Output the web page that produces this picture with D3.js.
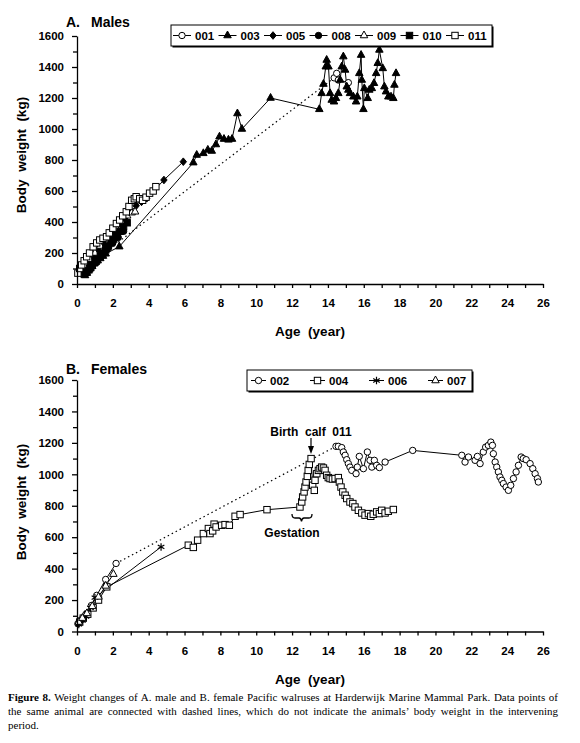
<!DOCTYPE html>
<html>
<head>
<meta charset="utf-8">
<title>Walrus body weight</title>
<script src="https://d3js.org/d3.v7.min.js"></script>
<style>
  body { margin: 0; background: #fff; }
  .axis text { font-family: "Liberation Sans", Arial, sans-serif; font-weight: bold; font-size: 11.5px; fill: #000; }
  .axis path, .axis line { stroke: #000; stroke-width: 1.3px; }
  .lbl { font-family: "Liberation Sans", Arial, sans-serif; font-weight: bold; fill: #000; }
  .cap { font-family: "Liberation Serif", "Times New Roman", serif; font-size: 11px; fill: #000; }
</style>
</head>
<body>
<svg id="fig" width="580" height="743"></svg>
<script>
// age (year), body weight (kg). a null means a gap -> bridged with a dotted line

// ---- A. males ----
var maleIds = ["001", "003", "005", "008", "009", "010", "011"];
var maleMarks = ["circleOpen", "triFilled", "diamond", "circleFilled", "triOpen", "squareFilled", "squareOpen"];

var m001 = [[0.3,80],[0.7,120],[1.1,160],[1.5,200], null,
  [14.35,1330],[14.49,1359],[14.58,1316],[15.14,1299]];
var m003 = [[0.45,55],[0.55,70],[0.65,85],[0.75,100],[0.85,115],[0.95,130],[1.05,140],[1.15,150],[1.3,165],[1.45,180],[1.6,195],
  [2.36,241],[6.49,783],[6.68,832],[7.05,843],[7.3,865],[7.52,858],[7.75,900],[7.95,950],[8.2,935],[8.45,930],[8.65,935],
  [8.95,1100],[9.2,1000],[10.8,1200],[13.52,1127],[13.65,1230],[13.75,1290],[13.88,1402],[13.93,1445],[14.03,1402],
  [14.12,1230],[14.21,1187],[14.34,1176],[14.45,1198],[14.58,1230],[14.68,1316],[14.77,1402],[14.86,1467],[14.96,1381],
  [15.05,1273],[15.14,1252],[15.23,1230],[15.42,1208],[15.57,1176],[15.64,1208],[15.75,1359],[15.85,1477],[15.89,1316],
  [15.98,1127],[16.03,1262],[16.22,1198],[16.31,1252],[16.45,1262],[16.57,1295],[16.69,1359],[16.78,1424],[16.87,1510],
  [17.06,1391],[17.15,1273],[17.24,1241],[17.37,1208],[17.52,1208],[17.65,1198],[17.71,1284],[17.8,1359]];
var m005 = [[0.35,95],[0.6,130],[0.9,175],[1.2,215],[1.5,255],[1.8,300],[2.1,345],[2.4,390],[2.7,430],[3.0,470],
  [3.3,505],[3.6,530],[3.89,553],[4.85,671],[5.93,789]];
var m008 = [[0.5,70],[0.8,105],[1.1,145],[1.4,185],[1.7,225],[2.0,265],[2.3,300],[2.6,340]];
var m009 = [[0.2,85],[0.45,120],[0.7,160],[1.0,200],[1.3,245],[1.6,285],[1.9,320],[2.2,360],[2.5,400],[2.8,440],[3.05,460],[3.24,466]];
var m010 = [[0.4,65],[0.55,80],[0.7,100],[0.85,120],[1.0,140],[1.15,160],[1.3,180],[1.45,200],[1.6,220],[1.75,245],
  [1.9,265],[2.05,290],[2.2,315],[2.4,340],[2.6,370],[2.8,395]];
var m011 = [[0.05,70],[0.15,100],[0.26,123],[0.4,150],[0.54,176],[0.7,200],[0.9,240],[1.1,265],[1.27,284],[1.45,295],
  [1.65,305],[1.8,330],[2.0,360],[2.2,390],[2.38,413],[2.55,440],[2.75,466],[2.9,500],[3.05,540],[3.2,550],[3.3,563],
  [3.5,550],[3.66,540],[3.85,560],[4.05,586],[4.25,600],[4.4,628]];
var maleData = [m001, m003, m005, m008, m009, m010, m011];

// ---- B. females ----
var femaleIds = ["002", "004", "006", "007"];
var femaleMarks = ["circleOpen", "squareOpen", "asterisk", "triOpen"];

var f002 = [[0.05,50],[0.25,75],[0.5,110],[0.8,165],[1.1,230],[1.6,331],[2.18,433], null,
  [14.45,1178],[14.58,1178],[14.77,1170],[14.86,1142],[14.96,1121],[15.05,1093],[15.14,1068],[15.23,1046],[15.33,1025],
  [15.57,1004],[15.64,1046],[15.75,1114],[15.98,1036],[16.2,1142],[16.35,1089],[16.45,1046],[16.59,1089],[16.72,1057],
  [16.87,1043],[17.19,1078],[18.73,1152],[21.47,1121],[21.65,1078],[21.84,1110],[22.21,1089],[22.34,1114],[22.49,1068],
  [22.67,1142],[22.8,1173],[22.95,1184],[23.09,1205],[23.18,1184],[23.23,1131],[23.33,1078],[23.42,1046],[23.51,1015],
  [23.6,983],[23.7,962],[23.79,941],[23.94,919],[24.07,898],[24.2,930],[24.35,973],[24.5,1015],[24.63,1057],[24.78,1110],
  [24.9,1100],[25.06,1093],[25.28,1068],[25.43,1036],[25.56,1004],[25.69,973],[25.74,951]];
var f004 = [[0.15,60],[0.35,85],[0.6,110],[0.9,150],[1.2,200],[1.66,284],[6.21,549],[6.49,535],[6.73,581],[7.05,623],
  [7.33,655],[7.42,623],[7.57,640],[7.65,683],[7.76,665],[8.07,676],[8.26,680],[8.5,676],[8.82,733],[9.1,744],[10.6,775],
  [12.44,792],[12.54,824],[12.59,856],[12.67,888],[12.72,919],[12.78,951],[12.85,987],[12.9,1025],[12.96,1063],[13.06,1100],
  [13.15,930],[13.24,898],[13.28,962],[13.38,1004],[13.47,1025],[13.56,1036],[13.65,1046],[13.75,1040],[13.84,1025],
  [13.93,994],[14.02,979],[14.12,973],[14.25,970],[14.4,973],[14.58,979],[14.64,951],[14.73,919],[14.83,888],[14.96,867],
  [15.05,846],[15.23,824],[15.39,814],[15.51,792],[15.7,771],[15.89,754],[16.07,740],[16.26,750],[16.39,733],[16.53,746],
  [16.72,761],[16.87,750],[17.0,771],[17.19,754],[17.37,765],[17.65,776]];
var f006 = [[0.1,45],[0.3,70],[0.5,95],[0.75,150],[1.0,215],[4.69,538]];
var f007 = [[0.1,60],[0.3,85],[0.55,115],[0.85,160],[1.2,220],[1.6,290],[2.03,365]];
var femaleData = [f002, f004, f006, f007];

// axis ticks
var xTicks = [0,1,2,3,4,5,6,7,8,9,10,11,12,13,14,15,16,17,18,19,20,21,22,23,24,25,26];
var yTicks = [0,200,400,600,800,1000,1200,1400,1600];
var yMinor = [100,300,500,700,900,1100,1300,1500];

var svg = d3.select("#fig");

var x = d3.scaleLinear().domain([0, 26]).range([77, 543]);
var yA = d3.scaleLinear().domain([0, 1600]).range([284, 36]);
var yB = d3.scaleLinear().domain([0, 1600]).range([631.5, 380]);

// draw one marker shape at px,py
function marker(g, type, px, py) {
  if (type == "circleOpen" || type == "circleFilled") {
    g.append("circle").attr("cx", px).attr("cy", py).attr("r", 3.2)
      .attr("fill", type == "circleOpen" ? "#fff" : "#000").attr("stroke", "#000").attr("stroke-width", 1);
  } else if (type == "triFilled" || type == "triOpen") {
    var s = 7.5;
    g.append("path")
      .attr("d", "M" + px + "," + (py - s * 0.6) + "L" + (px + s / 2) + "," + (py + s * 0.3) + "L" + (px - s / 2) + "," + (py + s * 0.3) + "Z")
      .attr("fill", type == "triOpen" ? "#fff" : "#000").attr("stroke", "#000").attr("stroke-width", 1);
  } else if (type == "squareFilled" || type == "squareOpen") {
    g.append("rect").attr("x", px - 3.2).attr("y", py - 3.2).attr("width", 6.4).attr("height", 6.4)
      .attr("fill", type == "squareOpen" ? "#fff" : "#000").attr("stroke", "#000").attr("stroke-width", 1);
  } else if (type == "diamond") {
    g.append("path")
      .attr("d", "M" + px + "," + (py - 3.8) + "L" + (px + 3.2) + "," + py + "L" + px + "," + (py + 3.8) + "L" + (px - 3.2) + "," + py + "Z")
      .attr("fill", "#000").attr("stroke", "#000");
  } else if (type == "asterisk") {
    var r = 3.8, d = "";
    [90, 30, 150].forEach(function(a) {
      var dx = r * Math.cos(a * Math.PI / 180), dy = r * Math.sin(a * Math.PI / 180);
      d += "M" + (px - dx) + "," + (py - dy) + "L" + (px + dx) + "," + (py + dy);
    });
    g.append("path").attr("d", d).attr("stroke", "#000").attr("stroke-width", 1.2).attr("fill", "none");
  }
}

function drawPanel(y, data, marks) {
  var g = svg.append("g");
  var line = d3.line()
    .defined(function(d) { return d !== null; })
    .x(function(d) { return x(d[0]); })
    .y(function(d) { return y(d[1]); });

  // solid connections + dotted bridges over gaps
  data.forEach(function(s) {
    g.append("path").attr("d", line(s)).attr("fill", "none").attr("stroke", "#000").attr("stroke-width", 1);
    s.forEach(function(d, i) {
      if (d === null) {
        var a = s[i - 1], b = s[i + 1];
        g.append("line")
          .attr("x1", x(a[0])).attr("y1", y(a[1])).attr("x2", x(b[0])).attr("y2", y(b[1]))
          .attr("stroke", "#000").attr("stroke-width", 1.2).attr("stroke-dasharray", "1.5,3");
      }
    });
  });
  // markers on top
  data.forEach(function(s, k) {
    s.forEach(function(d) {
      if (d !== null) marker(g, marks[k], x(d[0]), y(d[1]));
    });
  });

  // axes
  svg.append("g").attr("class", "axis")
    .attr("transform", "translate(0," + y(0) + ")")
    .call(d3.axisBottom(x).tickValues(xTicks).tickSize(4).tickSizeOuter(0).tickPadding(11)
      .tickFormat(function(d) { return d % 2 == 0 ? d : ""; }));
  svg.append("g").attr("class", "axis")
    .attr("transform", "translate(77,0)")
    .call(d3.axisLeft(y).tickValues(yTicks).tickSize(5).tickSizeOuter(0).tickPadding(8)
      .tickFormat(function(d) { return String(d); }));
  var mg = svg.append("g").attr("class", "axis")
    .attr("transform", "translate(77,0)")
    .call(d3.axisLeft(y).tickValues(yMinor).tickSize(4).tickFormat(""));
  mg.select(".domain").remove();
}

function drawLegend(ids, marks, bx, by, bw, bh, start, pitch, lineLen) {
  var g = svg.append("g");
  g.append("rect").attr("x", bx + 1.5).attr("y", by + 1.5).attr("width", bw).attr("height", bh).attr("fill", "#000");
  g.append("rect").attr("x", bx).attr("y", by).attr("width", bw).attr("height", bh)
    .attr("fill", "#fff").attr("stroke", "#000").attr("stroke-width", 1);
  var cy = by + bh / 2;
  ids.forEach(function(id, i) {
    var sx = start + i * pitch;
    g.append("line").attr("x1", sx).attr("x2", sx + lineLen).attr("y1", cy).attr("y2", cy)
      .attr("stroke", "#000").attr("stroke-width", 1);
    marker(g, marks[i], sx + lineLen / 2, cy);
    g.append("text").attr("class", "lbl").attr("x", sx + lineLen + 4).attr("y", cy + 4)
      .style("font-size", "11.5px").text(id);
  });
}

drawPanel(yA, maleData, maleMarks);
drawPanel(yB, femaleData, femaleMarks);

drawLegend(maleIds, maleMarks, 171, 25, 321, 21, 173, 45.5, 18);
drawLegend(femaleIds, femaleMarks, 247, 370, 225, 21, 251, 59, 15);

// titles and axis labels
[[22, "A.", "Males"], [369, "B.", "Females"]].forEach(function(t) {
  svg.append("text").attr("class", "lbl").attr("x", 66).attr("y", t[0] + 5).style("font-size", "14px").text(t[1]);
  svg.append("text").attr("class", "lbl").attr("x", 91).attr("y", t[0] + 5).style("font-size", "14px").text(t[2]);
});
[[331, 155], [679, 502]].forEach(function(p) {
  svg.append("text").attr("class", "lbl").attr("x", 310).attr("y", p[0] + 5)
    .attr("text-anchor", "middle").style("font-size", "13.5px").style("white-space", "pre").text("Age  (year)");
  svg.append("text").attr("class", "lbl")
    .attr("transform", "translate(26," + p[1] + ")rotate(-90)")
    .attr("text-anchor", "middle").style("font-size", "13.5px").style("white-space", "pre").text("Body  weight  (kg)");
});

// annotations in panel B
svg.append("text").attr("class", "lbl").attr("x", 311).attr("y", 436)
  .attr("text-anchor", "middle").style("font-size", "12px").style("white-space", "pre").text("Birth  calf  011");
svg.append("line").attr("x1", 311).attr("x2", 311).attr("y1", 438).attr("y2", 448).attr("stroke", "#000").attr("stroke-width", 1.2);
svg.append("path").attr("d", "M308,446L314,446L311,454Z").attr("fill", "#000");
svg.append("path").attr("d", "M292,514Q292,518 295,518L299,518Q301,518 301.5,521.5Q302,518 304,518L309,518Q312,518 312,514")
  .attr("fill", "none").attr("stroke", "#000").attr("stroke-width", 1.3);
svg.append("text").attr("class", "lbl").attr("x", 292).attr("y", 537)
  .attr("text-anchor", "middle").style("font-size", "12px").text("Gestation");

// caption, justified like the printed page
var capY = [701, 715, 729];
var cap1 = " Weight changes of A. male and B. female Pacific walruses at Harderwijk Marine Mammal Park. Data points of";
var cap2 = "the same animal are connected with dashed lines, which do not indicate the animals\u2019 body weight in the intervening";
var cap3 = "period.";
var capW = 550;

var t1 = svg.append("text").attr("class", "cap").attr("x", 8).attr("y", capY[0]);
t1.append("tspan").style("font-weight", "bold").text("Figure 8.");
t1.append("tspan").text(cap1);
var t2 = svg.append("text").attr("class", "cap").attr("x", 8).attr("y", capY[1]).text(cap2);
svg.append("text").attr("class", "cap").attr("x", 8).attr("y", capY[2]).text(cap3);

[[t1, "Figure 8." + cap1], [t2, cap2]].forEach(function(p) {
  var w = p[0].node().getComputedTextLength();
  var n = (p[1].match(/ /g) || []).length;
  p[0].style("word-spacing", ((capW - w) / n) + "px");
});
</script>
</body>
</html>
